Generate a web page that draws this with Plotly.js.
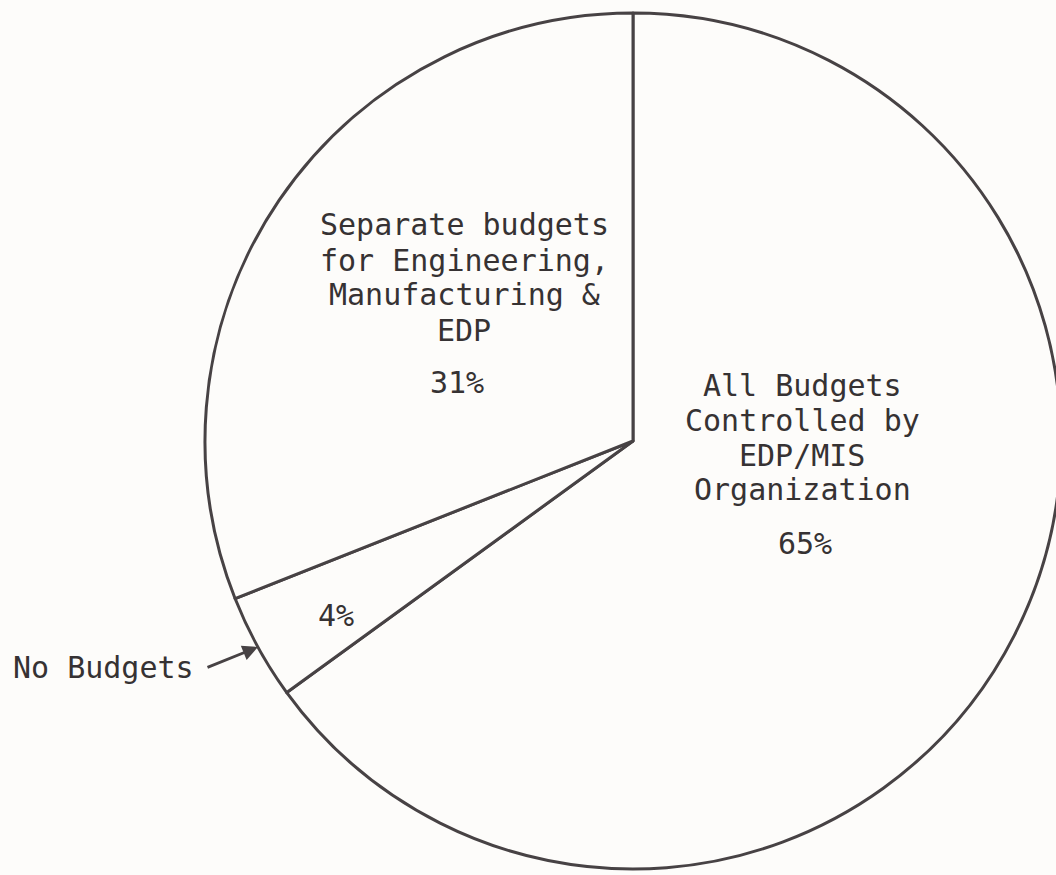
<!DOCTYPE html>
<html>
<head>
<meta charset="utf-8">
<script src="https://cdn.plot.ly/plotly-3.0.1.min.js"></script>
<style>
html,body{margin:0;padding:0;overflow:hidden;background:#fdfcfa;}
#chart{width:1066px;height:875px;}
</style>
</head>
<body>
<div id="chart"></div>
<script>
// ---- data ----
const categories = ["All Budgets Controlled by EDP/MIS Organization", "No Budgets", "Separate budgets for Engineering, Manufacturing & EDP"];
const shares = [65, 4, 31];
const pctLabels = ["65%", "4%", "31%"];
const allBudgetLines = ["All Budgets", "Controlled by", "EDP/MIS", "Organization"];
const separateLines = ["Separate budgets", "for Engineering,", "Manufacturing &", "EDP"];
const noBudgetLabel = "No Budgets";

// ---- layout helpers (pixel -> paper) ----
const W = 1066, H = 875, ML = 205, MR = 5, MT = 13, MB = 6;
const PW = W - ML - MR, PH = H - MT - MB;
const fx = x => (x - ML) / PW;
const fy = y => (H - MB - y) / PH;

const ink = "#363233";
const lineCol = "#474244";
const font = {family: "DejaVu Sans Mono, monospace", size: 30, color: ink};

function txt(s, x, baseline) {
  return {text: s, x: fx(x), y: fy(baseline - 10), xref: "paper", yref: "paper",
          xanchor: "center", yanchor: "middle", showarrow: false, font: font};
}

const annotations = [];
const sepBase = [235, 270, 305, 340];
separateLines.forEach((s, i) => annotations.push(txt(s, 464, sepBase[i])));
annotations.push(txt(pctLabels[2], 457, 393));

const allBase = [395, 430, 465, 500];
allBudgetLines.forEach((s, i) => annotations.push(txt(s, 802, allBase[i])));
annotations.push(txt(pctLabels[0], 805, 553));

annotations.push(txt(pctLabels[1], 336, 625));

// No Budgets label
annotations.push({text: noBudgetLabel, x: fx(11), y: fy(667), xref: "paper", yref: "paper",
  xanchor: "left", yanchor: "middle", showarrow: false, font: font});
// arrow
annotations.push({text: "", x: fx(258), y: fy(647), xref: "paper", yref: "paper",
  showarrow: true, ax: -52, ay: 21, arrowhead: 2, arrowsize: 1.1, arrowwidth: 2.8,
  arrowcolor: lineCol, standoff: 0});

const trace = {
  type: "pie",
  labels: categories,
  values: shares,
  sort: false,
  direction: "clockwise",
  rotation: 0,
  textinfo: "none",
  hoverinfo: "label+percent",
  marker: {colors: ["#fdfcfa", "#fdfcfa", "#fdfcfa"], line: {color: lineCol, width: 3}},
  domain: {x: [0, 1], y: [0, 1]}
};

const layout = {
  width: W, height: H,
  margin: {l: ML, r: MR, t: MT, b: MB, pad: 0},
  paper_bgcolor: "#fdfcfa",
  plot_bgcolor: "#fdfcfa",
  showlegend: false,
  annotations: annotations
};

Plotly.newPlot("chart", [trace], layout, {displayModeBar: false, staticPlot: true});
</script>
</body>
</html>
